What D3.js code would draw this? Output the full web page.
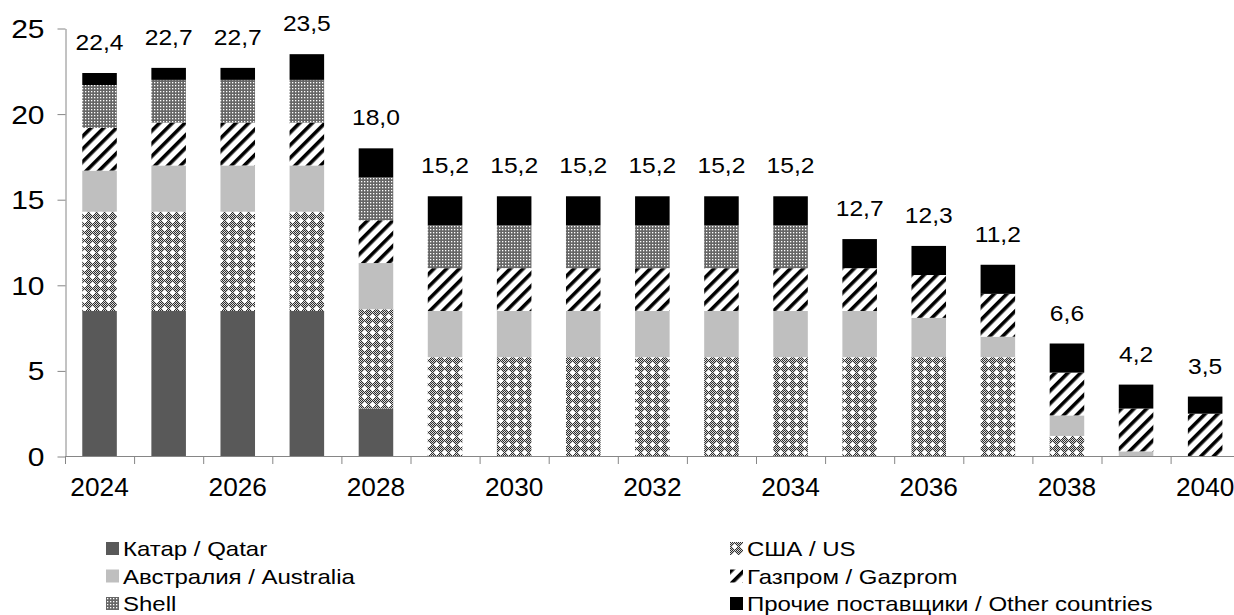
<!DOCTYPE html>
<html>
<head>
<meta charset="utf-8">
<script src="https://cdn.jsdelivr.net/npm/d3@7"></script>
<style>
  body { margin: 0; background: #fff; }
  text { font-family: "Liberation Sans", Arial, sans-serif; fill: #000; }
</style>
</head>
<body>
<div id="root"></div>
<script>
// data (mln t per year)
var years     = [2024, 2025, 2026, 2027, 2028, 2029, 2030, 2031, 2032, 2033, 2034, 2035, 2036, 2037, 2038, 2039, 2040];
var qatar     = [8.5, 8.5, 8.5, 8.5, 2.8, 0, 0, 0, 0, 0, 0, 0, 0, 0, 0, 0, 0];
var us        = [5.8, 5.8, 5.8, 5.8, 5.8, 5.8, 5.8, 5.8, 5.8, 5.8, 5.8, 5.8, 5.8, 5.8, 1.2, 0, 0];
var australia = [2.4, 2.7, 2.7, 2.7, 2.7, 2.7, 2.7, 2.7, 2.7, 2.7, 2.7, 2.7, 2.3, 1.2, 1.2, 0.3, 0];
var gazprom   = [2.5, 2.5, 2.5, 2.5, 2.5, 2.5, 2.5, 2.5, 2.5, 2.5, 2.5, 2.5, 2.5, 2.5, 2.5, 2.5, 2.5];
var shell     = [2.5, 2.5, 2.5, 2.5, 2.5, 2.5, 2.5, 2.5, 2.5, 2.5, 2.5, 0, 0, 0, 0, 0, 0];
var other     = [0.7, 0.7, 0.7, 1.5, 1.7, 1.7, 1.7, 1.7, 1.7, 1.7, 1.7, 1.7, 1.7, 1.7, 1.7, 1.4, 1.0];

var seriesKeys   = ["qatar", "us", "australia", "gazprom", "shell", "other"];
var seriesNames  = ["Катар / Qatar", "США / US", "Австралия / Australia", "Газпром / Gazprom", "Shell", "Прочие поставщики / Other countries"];
var yTicks = [0, 5, 10, 15, 20, 25];

var table = years.map(function (y, i) {
  return { year: y, qatar: qatar[i], us: us[i], australia: australia[i], gazprom: gazprom[i], shell: shell[i], other: other[i] };
});

var width = 1234, height = 615;
var svg = d3.select("#root").append("svg")
    .attr("width", width)
    .attr("height", height);

// the source picture has its text a bit wide, so text gets a scaleX
function stretch(sel, xf, yf, sx) {
  sel.attr("x", 0).attr("y", 0)
     .attr("transform", function (d, i) {
       return "translate(" + xf(d, i) + "," + yf(d, i) + ") scale(" + sx + ",1)";
     });
}

// fill patterns, close to the excel ones
var defs = svg.append("defs");

var pUs = defs.append("pattern").attr("id", "p-us")
    .attr("width", 8).attr("height", 8).attr("patternUnits", "userSpaceOnUse");
pUs.append("rect").attr("width", 8).attr("height", 8).attr("fill", "#fff");
var usDots = [];
for (var px = 0; px < 8; px++) {
  for (var py = 0; py < 8; py++) {
    var inDiamond = Math.abs(px - 4) + Math.abs(py - 4) <= 2;
    if ((px + py) % 2 == 0 && !inDiamond) usDots.push([px, py]);
  }
}
pUs.selectAll("rect.d").data(usDots).enter().append("rect")
    .attr("class", "d")
    .attr("x", function (d) { return d[0]; })
    .attr("y", function (d) { return d[1]; })
    .attr("width", 1.15).attr("height", 1.15)
    .attr("fill", "#2e2e2e");

var pShell = defs.append("pattern").attr("id", "p-shell")
    .attr("width", 3).attr("height", 3).attr("patternUnits", "userSpaceOnUse");
pShell.append("rect").attr("width", 3).attr("height", 3).attr("fill", "#666");
pShell.append("rect").attr("x", 1).attr("y", 1).attr("width", 1.3).attr("height", 1.3).attr("fill", "#fff");

var pGaz = defs.append("pattern").attr("id", "p-gaz")
    .attr("width", 9).attr("height", 9).attr("patternUnits", "userSpaceOnUse")
    .attr("patternTransform", "rotate(45)");
pGaz.append("rect").attr("width", 9).attr("height", 9).attr("fill", "#fff");
pGaz.append("rect").attr("width", 3.6).attr("height", 9).attr("fill", "#000");

var fills = {
  qatar: "#595959",
  us: "url(#p-us)",
  australia: "#bfbfbf",
  gazprom: "url(#p-gaz)",
  shell: "url(#p-shell)",
  other: "#000"
};

// scales
var x = d3.scaleBand()
    .domain(years)
    .range([65, 65 + 69.1 * years.length])
    .paddingInner(0.5)
    .paddingOuter(0.25);

var y = d3.scaleLinear()
    .domain([0, 25])
    .range([456.5, 28.5]);

var axisColor = "#868686";

// y axis
var yAxis = svg.append("g")
    .attr("transform", "translate(65.5,0)")
    .call(d3.axisLeft(y).tickValues(yTicks).tickSize(8).tickPadding(13).tickSizeOuter(0));
yAxis.select(".domain").attr("stroke", axisColor);
yAxis.selectAll(".tick line").attr("stroke", axisColor);
yAxis.selectAll(".tick text")
    .attr("font-size", 25)
    .attr("font-family", "Liberation Sans, Arial, sans-serif")
    .attr("fill", "#000")
    .attr("dy", "0.36em")
    .call(stretch, function () { return -21; }, function () { return 0; }, 1.2);

// stacked bars
var stack = d3.stack().keys(seriesKeys);
var layers = stack(table);

svg.append("g").selectAll("g")
    .data(layers)
  .enter().append("g")
    .attr("fill", function (d) { return fills[d.key]; })
  .selectAll("rect")
    .data(function (d) { return d; })
  .enter().append("rect")
    .attr("x", function (d) { return x(d.data.year); })
    .attr("width", x.bandwidth())
    .attr("y", function (d) { return y(d[1]); })
    .attr("height", function (d) { return y(d[0]) - y(d[1]); });

// x axis: line, boundary ticks, labels on even years
var step = x.step();
var xAxis = svg.append("g");
xAxis.append("line")
    .attr("x1", 65).attr("x2", width)
    .attr("y1", 456.5).attr("y2", 456.5)
    .attr("stroke", axisColor);
var bounds = d3.range(years.length + 1).map(function (i) { return 65.5 + i * step; });
xAxis.selectAll("line.tk").data(bounds).enter().append("line")
    .attr("class", "tk")
    .attr("x1", function (d) { return d; }).attr("x2", function (d) { return d; })
    .attr("y1", 456.5).attr("y2", 464)
    .attr("stroke", axisColor);
xAxis.selectAll("text").data(years.filter(function (d) { return d % 2 == 0; }))
  .enter().append("text")
    .attr("text-anchor", "middle")
    .attr("font-size", 25)
    .text(function (d) { return d; })
    .call(stretch, function (d) { return x(d) + x.bandwidth() / 2; }, function () { return 496; }, 1.05);

// totals above bars
var fmt = d3.format(".1f");
function total(d) { return d.qatar + d.us + d.australia + d.gazprom + d.shell + d.other; }
svg.append("g").selectAll("text")
    .data(table)
  .enter().append("text")
    .attr("text-anchor", "middle")
    .attr("font-size", 22)
    .text(function (d) { return fmt(total(d)).replace(".", ","); })
    .call(stretch, function (d) { return x(d.year) + x.bandwidth() / 2; },
                   function (d) { return y(total(d)) - 23; }, 1.12);

// legend, two columns
var legendOrder = ["qatar", "us", "australia", "gazprom", "shell", "other"];
var legend = svg.append("g").selectAll("g")
    .data(legendOrder)
  .enter().append("g")
    .attr("transform", function (d, i) {
      var col = i % 2, row = Math.floor(i / 2);
      return "translate(" + (col == 0 ? 106 : 730) + "," + (542 + row * 27.5) + ")";
    });
legend.append("rect")
    .attr("width", 13).attr("height", 13)
    .attr("fill", function (d) { return fills[d]; });
legend.append("text")
    .attr("dy", "0.35em")
    .attr("font-size", 20)
    .text(function (d) { return seriesNames[seriesKeys.indexOf(d)]; })
    .call(stretch, function () { return 17; }, function () { return 7; }, 1.2);
</script>
</body>
</html>
